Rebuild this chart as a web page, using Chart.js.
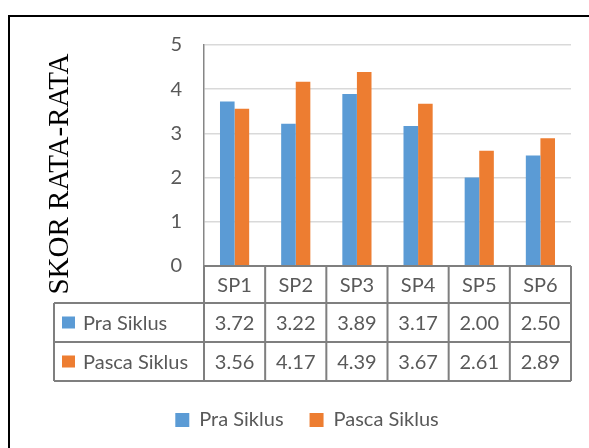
<!DOCTYPE html>
<html>
<head>
<meta charset="utf-8">
<script src="https://cdn.jsdelivr.net/npm/chart.js@4"></script>
<style>
  html, body { margin: 0; padding: 0; background: #fff; }
  #wrap { width: 589px; height: 448px; }
</style>
</head>
<body>
<div id="wrap"><canvas id="meuGrafico" width="589" height="448"></canvas></div>
<script>
// data
const kategori = ['SP1', 'SP2', 'SP3', 'SP4', 'SP5', 'SP6'];
const praSiklus = [3.72, 3.22, 3.89, 3.17, 2.00, 2.50];
const pascaSiklus = [3.56, 4.17, 4.39, 3.67, 2.61, 2.89];
const namaSeri = ['Pra Siklus', 'Pasca Siklus'];
const warna = ['#5B9BD5', '#ED7D31'];
const yTicks = [0, 1, 2, 3, 4, 5];
const tituloY = 'SKOR RATA-RATA';

const fonte = 'Lato, "Open Sans", sans-serif';
const cinza = '#595959';

// draws the data table below the bars, the way Excel does it
const tabelaDados = {
    id: 'tabelaDados',
    afterDraw(chart) {
        const ctx = chart.ctx;
        const x = chart.scales.x;
        const area = chart.chartArea;
        const passo = x.width / kategori.length;
        const topo = area.bottom;
        const linhas = [topo, topo + 37, topo + 76, topo + 115];
        const esquerda = 54;
        const series = [praSiklus, pascaSiklus];

        ctx.save();
        ctx.strokeStyle = '#7F7F7F';
        ctx.lineWidth = 2;
        ctx.beginPath();
        // horizontal lines
        ctx.moveTo(area.left, linhas[0]); ctx.lineTo(area.right, linhas[0]);
        for (let r = 1; r < 4; r++) {
            ctx.moveTo(esquerda, linhas[r]); ctx.lineTo(area.right, linhas[r]);
        }
        // vertical lines
        ctx.moveTo(esquerda, linhas[1]); ctx.lineTo(esquerda, linhas[3]);
        for (let i = 0; i <= kategori.length; i++) {
            const px = area.left + passo * i;
            ctx.moveTo(px, linhas[0]); ctx.lineTo(px, linhas[3]);
        }
        ctx.stroke();

        ctx.fillStyle = cinza;
        ctx.font = '20px ' + fonte;
        ctx.textAlign = 'center';
        ctx.textBaseline = 'middle';
        kategori.forEach((k, i) => {
            const cx = x.getPixelForValue(i);
            ctx.fillText(k, cx, (linhas[0] + linhas[1]) / 2 + 1);
            series.forEach((s, j) => {
                ctx.fillText(s[i].toFixed(2), cx, (linhas[j + 1] + linhas[j + 2]) / 2 + 1);
            });
        });

        // series names with colour keys
        ctx.textAlign = 'left';
        namaSeri.forEach((nome, j) => {
            const cy = (linhas[j + 1] + linhas[j + 2]) / 2;
            ctx.fillStyle = warna[j];
            ctx.fillRect(62, cy - 6, 13, 12);
            ctx.fillStyle = cinza;
            ctx.fillText(nome, 83, cy + 1);
        });

        // axis title, centred on plot + table like the original
        ctx.save();
        ctx.translate(60, 174);
        ctx.rotate(-Math.PI / 2);
        ctx.fillStyle = '#000';
        ctx.font = '29px "Liberation Serif", "Times New Roman", serif';
        ctx.textAlign = 'center';
        ctx.textBaseline = 'middle';
        ctx.fillText(tituloY, 0, 0);
        ctx.restore();

        // outer frame
        ctx.strokeStyle = '#000';
        ctx.lineWidth = 2;
        ctx.strokeRect(9, 16, 700, 700);
        ctx.restore();
    }
};

const dados = {
    labels: kategori,
    datasets: [{
        label: namaSeri[0],
        data: praSiklus,
        backgroundColor: warna[0]
    }, {
        label: namaSeri[1],
        data: pascaSiklus,
        backgroundColor: warna[1]
    }]
};

var configuracao = {
    type: 'bar',
    data: dados,
    options: {
        responsive: false,
        animation: false,
        categoryPercentage: 0.477,
        barPercentage: 1,
        layout: { padding: { left: 43, right: 18, top: 45, bottom: 8 } },
        plugins: {
            tooltip: { enabled: false },
            legend: {
                position: 'bottom',
                labels: {
                    boxWidth: 14,
                    boxHeight: 14,
                    padding: 26,
                    color: cinza,
                    font: { family: fonte, size: 20 }
                }
            }
        },
        scales: {
            x: {
                grid: { display: false },
                border: { display: false },
                ticks: { display: false },
                afterFit(scale) { scale.height = 118; }
            },
            y: {
                min: 0,
                max: 5,
                afterBuildTicks(scale) { scale.ticks = yTicks.map(v => ({ value: v })); },
                afterFit(scale) { scale.width = 161; },
                grid: { color: '#D9D9D9', lineWidth: 1.5, drawTicks: false },
                border: { color: '#868686', width: 1.5 },
                ticks: {
                    color: cinza,
                    padding: 22,
                    font: { family: fonte, size: 20 }
                },
                title: { display: false }
            }
        }
    },
    plugins: [tabelaDados]
};

var meuGrafico = new Chart(document.getElementById('meuGrafico'), configuracao);
</script>
</body>
</html>
